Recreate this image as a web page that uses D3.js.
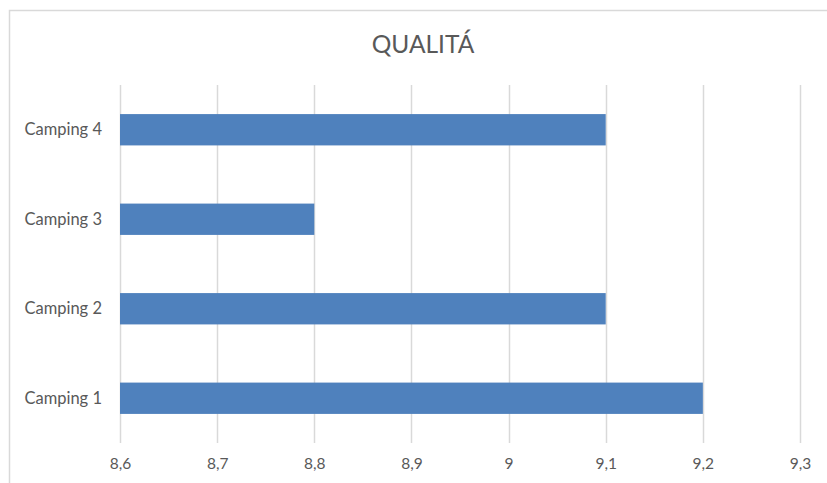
<!DOCTYPE html>
<html>
<head>
<meta charset="utf-8">
<script src="https://cdn.jsdelivr.net/npm/d3@7"></script>
<style>
  html, body { margin: 0; padding: 0; background: #fff; }
  svg { display: block; }
  text { font-family: Lato, "Open Sans", sans-serif; fill: #595959; }
</style>
</head>
<body>
<svg id="chart" width="827" height="483"></svg>
<script>
// Quality score per campsite
const categories = ["Camping 1", "Camping 2", "Camping 3", "Camping 4"];
const values = [9.2, 9.1, 8.8, 9.1];
const tickValues = [8.6, 8.7, 8.8, 8.9, 9.0, 9.1, 9.2, 9.3];
const tickLabels = ["8,6", "8,7", "8,8", "8,9", "9", "9,1", "9,2", "9,3"];
const title = "QUALITÁ";

const svg = d3.select("#chart");
const W = 827, H = 483;

// Chart frame
svg.append("rect").attr("width", W).attr("height", H).attr("fill", "#fff");
svg.append("path")
  .attr("d", `M9.5,${H} V10.5 H${W}`)
  .attr("fill", "none")
  .attr("stroke", "#d9d9d9")
  .attr("stroke-width", 1.5);

const plot = { left: 120, right: 800, top: 85, bottom: 443 };

const x = d3.scaleLinear().domain([8.6, 9.3]).range([plot.left, plot.right]);
const y = d3.scaleBand()
  .domain(categories.slice().reverse())
  .range([plot.top, plot.bottom])
  .paddingInner(0.65)
  .paddingOuter(0.325);

// Vertical gridlines
svg.append("g")
  .selectAll("line")
  .data(tickValues)
  .join("line")
  .attr("x1", d => Math.round(x(d)) + 0.5)
  .attr("x2", d => Math.round(x(d)) + 0.5)
  .attr("y1", plot.top)
  .attr("y2", plot.bottom)
  .attr("stroke", "#d9d9d9")
  .attr("stroke-width", 1.5);

// Bars
svg.append("g")
  .selectAll("rect")
  .data(categories)
  .join("rect")
  .attr("x", x(8.6))
  .attr("y", d => y(d))
  .attr("width", (d, i) => x(values[i]) - x(8.6))
  .attr("height", y.bandwidth())
  .attr("fill", "#4f81bd");

// X-axis tick labels
const xAxis = d3.axisBottom(x)
  .tickValues(tickValues)
  .tickFormat((d, i) => tickLabels[i])
  .tickSize(0)
  .tickPadding(0);
const gx = svg.append("g")
  .attr("transform", `translate(0,${plot.bottom + 15})`)
  .call(xAxis);
gx.select(".domain").remove();
gx.selectAll("text")
  .attr("font-size", 15.5)
  .attr("fill", "#595959")
  .attr("font-family", "Lato, 'Open Sans', sans-serif");

// Category labels
const yAxis = d3.axisLeft(y).tickSize(0).tickPadding(18);
const gy = svg.append("g")
  .attr("transform", `translate(${plot.left},0)`)
  .call(yAxis);
gy.select(".domain").remove();
gy.selectAll("text")
  .attr("font-size", 16.5)
  .attr("fill", "#595959")
  .attr("font-family", "Lato, 'Open Sans', sans-serif");

// Title
svg.append("text")
  .attr("x", 423)
  .attr("y", 53)
  .attr("text-anchor", "middle")
  .attr("font-size", 24.5)
  .text(title);
</script>
</body>
</html>
